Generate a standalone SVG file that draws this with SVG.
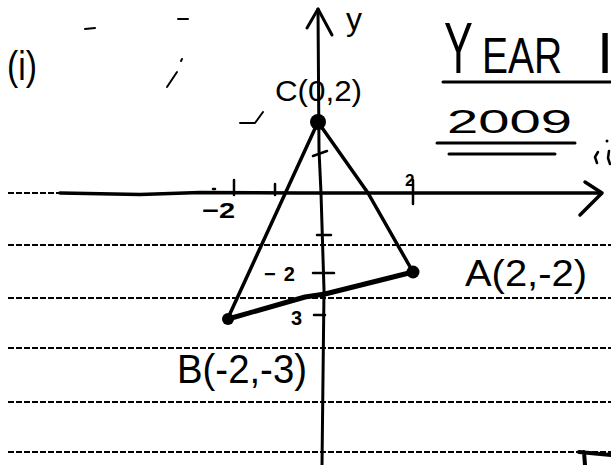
<svg xmlns="http://www.w3.org/2000/svg" width="611" height="465" viewBox="0 0 611 465">
<style>
.rule{stroke:#000;stroke-width:2;stroke-dasharray:6 2;fill:none}
.ink{stroke:#000;fill:none;stroke-linecap:round;stroke-linejoin:round}
.hand{font-family:"Liberation Sans","DejaVu Sans",sans-serif;fill:#000}
</style>
<rect width="611" height="465" fill="#fff"/>
<g id="ruled-lines">
<line class="rule" x1="8" y1="193" x2="62" y2="193"/>
<line class="rule" x1="8" y1="245" x2="611" y2="245"/>
<line class="rule" x1="8" y1="298" x2="611" y2="298"/>
<line class="rule" x1="8" y1="348" x2="611" y2="348"/>
<line class="rule" x1="8" y1="402" x2="611" y2="402"/>
<line class="rule" x1="8" y1="452" x2="611" y2="452"/>
</g>
<g id="axes">
<path class="ink" stroke-width="3.5" d="M60 193 L140 194.5 L200 192.5 L300 193 L600 193"/>
<path class="ink" stroke-width="3.5" d="M585 182 L602 193 L580 215"/>
<path class="ink" stroke-width="3" d="M318 9 L319 150 L321 193 L324 290 L322 465"/>
<path class="ink" stroke-width="3" d="M307 28 L318 9 L332 35"/>
<g id="ticks" class="ink" stroke-width="2.5">
<line x1="234" y1="180" x2="234" y2="195"/>
<line x1="275" y1="184" x2="275" y2="195"/>
<line x1="213" y1="189" x2="215" y2="189"/>
<line x1="413" y1="180" x2="413" y2="204"/>
<line x1="313" y1="156" x2="327" y2="151"/>
<line x1="317" y1="235" x2="331" y2="235"/>
<line x1="313" y1="273" x2="334" y2="273"/>
<line x1="314" y1="315" x2="325" y2="315"/>
</g>
<text class="hand" x="346" y="30" font-size="32">y</text>
<text class="hand" x="202" y="218" font-size="22" font-weight="bold" textLength="33" lengthAdjust="spacingAndGlyphs">−2</text>
<text class="hand" x="405" y="186" font-size="17" font-weight="bold">2</text>
<text class="hand" x="264" y="281" font-size="20" font-weight="bold" letter-spacing="8">−2</text>
<text class="hand" x="291" y="325" font-size="20" font-weight="bold">3</text>
</g>
<g id="triangle">
<path class="ink" stroke-width="3.5" d="M228 318 L318 122"/>
<path class="ink" stroke-width="3.5" d="M318 122 L368 193 L413 272"/>
<path class="ink" stroke-width="5" d="M228 319 L305 297 L325 294 L413 272"/>
</g>
<g id="point-C">
<circle cx="318" cy="122" r="8"/>
<text class="hand" x="275" y="101" font-size="30" textLength="87" lengthAdjust="spacingAndGlyphs">C(0,2)</text>
</g>
<g id="point-A">
<circle cx="413" cy="272" r="6.5"/>
<text class="hand" x="465" y="286" font-size="36" textLength="122" lengthAdjust="spacingAndGlyphs">A(2,-2)</text>
</g>
<g id="point-B">
<circle cx="228" cy="319" r="6"/>
<text class="hand" x="177" y="383" font-size="40" textLength="130" lengthAdjust="spacingAndGlyphs">B(-2,-3)</text>
</g>
<g id="heading">
<text class="hand" x="7" y="80" font-size="40" textLength="30" lengthAdjust="spacingAndGlyphs">(i)</text>
<text class="hand" transform="translate(444,73) scale(0.6,1)" font-size="72">Y</text>
<text class="hand" transform="translate(482,73) scale(0.78,1)" font-size="50">EAR</text>
<text class="hand" x="597" y="73" font-size="58">I</text>
<line class="ink" stroke-width="3" x1="443" y1="82" x2="611" y2="82"/>
<text class="hand" x="447" y="133" font-size="34" textLength="125" lengthAdjust="spacingAndGlyphs">2009</text>
<line class="ink" stroke-width="3" x1="437" y1="143" x2="575" y2="143"/>
<line class="ink" stroke-width="3" x1="449" y1="154" x2="555" y2="154"/>
</g>
<g id="marks" class="ink" stroke-width="2">
<line x1="85" y1="29" x2="95" y2="28"/>
<line x1="178" y1="19" x2="188" y2="19"/>
<line x1="167" y1="87" x2="177" y2="72"/>
<line x1="181" y1="61" x2="182" y2="59"/>
<path d="M240 123 L255 123 L263 112"/>
<path stroke-width="2.5" d="M598 152 L595 157 L597 163"/>
<circle cx="607" cy="141" r="1.5" fill="#000" stroke="none"/>
<path stroke-width="2.5" d="M609 151 L608 158 L610 164"/>
<path stroke-width="4" d="M579 452 L611 455 M584 452 L585 465"/>
</g>
</svg>
